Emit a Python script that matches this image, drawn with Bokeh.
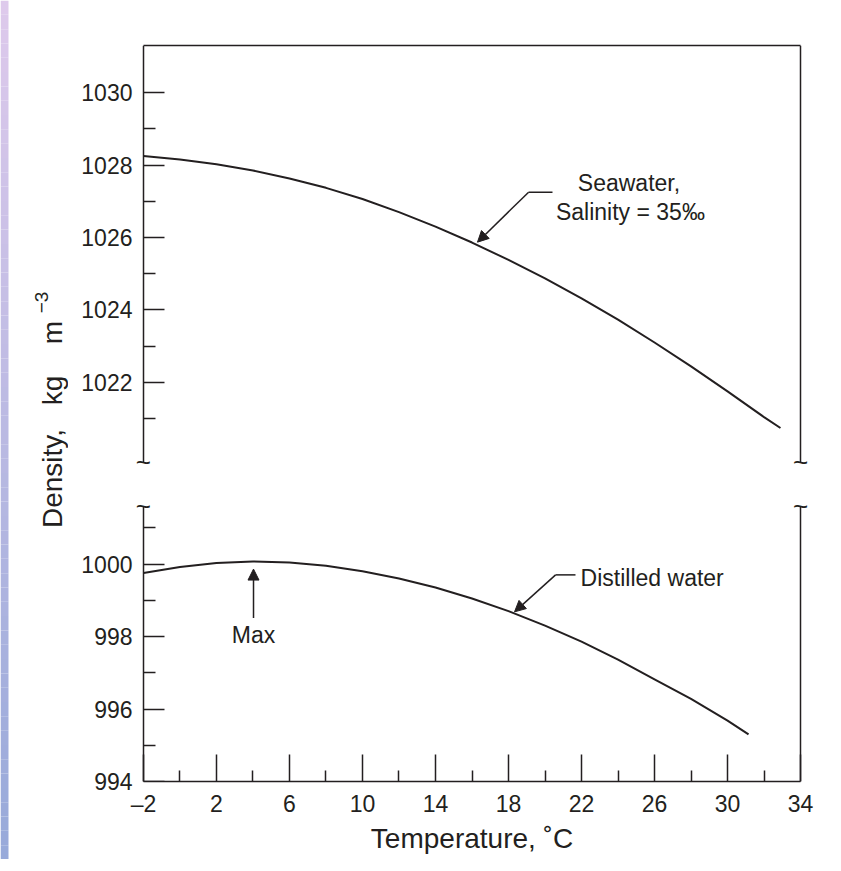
from math import pi
import numpy as np
from bokeh.plotting import figure
from bokeh.models import Range1d, LinearAxis, FixedTicker, Label, Arrow, NormalHead
from bokeh.core.properties import value
from bokeh.layouts import row, column
from bokeh.embed import file_html
from bokeh.resources import INLINE

# ---------------- data ----------------
temp_sea = [-2, 0, 2, 4, 6, 8, 10, 12, 14, 16, 18, 20, 22, 24, 26, 28, 30, 32, 32.9]
rho_sea = [1028.25, 1028.15, 1028.02, 1027.85, 1027.63, 1027.37, 1027.06, 1026.70,
           1026.30, 1025.86, 1025.38, 1024.87, 1024.32, 1023.73, 1023.10, 1022.44,
           1021.75, 1021.04, 1020.74]

temp_dist = [-2, 0, 2, 4, 6, 8, 10, 12, 14, 16, 18, 20, 22, 24, 26, 28, 30, 31.15]
rho_dist = [999.75, 999.92, 1000.03, 1000.07, 1000.04, 999.95, 999.80, 999.60,
            999.35, 999.05, 998.70, 998.30, 997.86, 997.36, 996.82, 996.28,
            995.68, 995.30]

x_major = [-2, 2, 6, 10, 14, 18, 22, 26, 30, 34]
x_minor = [0, 4, 8, 12, 16, 20, 24, 28, 32]
y_top_major = [1022, 1024, 1026, 1028, 1030]
y_top_minor = [1021, 1023, 1025, 1027, 1029]
y_bot_major = [994, 996, 998, 1000]
y_bot_minor = [995, 997, 999, 1001]

# axis extents (the broken y axis)
X_AXIS = (-2, 34)
Y_TOP = (1019.8, 1031.3)
Y_BOT = (994, 1001.6)

INK = "#231f20"
FONT = "Liberation Sans"
TICK_FS = "23px"
NOTE_FS = "23px"
PAD_X = 0.6
PAD_Y = 0.4

LEFT_W = 68
FRAME_W = 679
TOP_FRAME_H = 431
BOT_FRAME_H = 290
TOP_B, MID_T, BOT_B = 45, 15, 78


def tick_axis(positions, length, with_line, bounds):
    """axis drawn at x=-2 inside the frame: optional line + inward ticks, no labels"""
    ax = LinearAxis(ticker=FixedTicker(ticks=[], minor_ticks=positions),
                    fixed_location=X_AXIS[0], bounds=bounds)
    ax.axis_line_color = INK if with_line else None
    ax.axis_line_width = 1.5
    ax.minor_tick_line_color = INK
    ax.minor_tick_line_width = 1.5
    ax.minor_tick_in = length
    ax.minor_tick_out = 0
    ax.major_tick_in = 0
    ax.major_tick_out = 0
    ax.major_label_standoff = 0
    return ax


def labels_only(ticks):
    ax = LinearAxis(ticker=FixedTicker(ticks=ticks, minor_ticks=[]))
    ax.axis_line_color = None
    ax.major_tick_line_color = None
    ax.minor_tick_line_color = None
    ax.major_tick_in = 0
    ax.major_tick_out = 0
    ax.minor_tick_in = 0
    ax.minor_tick_out = 0
    ax.major_label_text_font = FONT
    ax.major_label_text_font_size = TICK_FS
    ax.major_label_text_color = INK
    ax.major_label_standoff = 0
    return ax


def plain_axis(**kw):
    ax = LinearAxis(ticker=FixedTicker(ticks=[], minor_ticks=[]), **kw)
    ax.axis_line_color = INK
    ax.axis_line_width = 1.5
    ax.major_tick_in = 0
    ax.major_tick_out = 0
    ax.minor_tick_in = 0
    ax.minor_tick_out = 0
    ax.major_label_standoff = 0
    return ax


def squiggles(p, y):
    p.text(x=list(X_AXIS), y=[y, y], text=["~", "~"], text_align="center",
           text_baseline="middle", text_font=value(FONT), text_font_size="26px",
           text_color=INK)


def base_fig(frame_h, y_range, top, bottom, x_axis):
    p = figure(frame_width=FRAME_W, frame_height=frame_h, output_backend="svg",
               toolbar_location=None,
               x_range=Range1d(X_AXIS[0] - PAD_X, X_AXIS[1] + PAD_X), y_range=y_range,
               x_axis_location="below" if x_axis else None, y_axis_location=None,
               min_border_left=64, min_border_right=25,
               min_border_top=top, min_border_bottom=bottom)
    p.outline_line_color = None
    p.grid.visible = False
    p.border_fill_color = "white"
    return p


def left_axes(p, major, minor, bounds):
    p.add_layout(tick_axis(major, 21, True, bounds), "left")
    p.add_layout(tick_axis(minor, 12, False, bounds), "left")
    p.add_layout(labels_only(major), "left")
    p.add_layout(plain_axis(fixed_location=X_AXIS[1], bounds=bounds), "right")


# ---------------- top panel (seawater) ----------------
pt = base_fig(TOP_FRAME_H, Range1d(Y_TOP[0] - PAD_Y, Y_TOP[1]), TOP_B, 0, False)
left_axes(pt, y_top_major, y_top_minor, Y_TOP)
pt.add_layout(plain_axis(bounds=X_AXIS), "above")

pt.line(temp_sea, rho_sea, line_color=INK, line_width=2)

pt.add_layout(Arrow(end=None, x_start=20.41, y_start=1027.25, x_end=19.10, y_end=1027.25,
                    line_color=INK, line_width=1.5))
pt.add_layout(Arrow(end=NormalHead(size=11, fill_color=INK, line_color=INK),
                    x_start=19.10, y_start=1027.25, x_end=16.30, y_end=1025.87,
                    line_color=INK, line_width=1.5))
pt.add_layout(Label(x=24.6, y=1027.49, text="Seawater,", text_align="center",
                    text_baseline="middle", text_font=FONT, text_font_size=NOTE_FS,
                    text_color=INK))
pt.add_layout(Label(x=24.68, y=1026.69, text="Salinity = 35‰", text_align="center",
                    text_baseline="middle", text_font=FONT, text_font_size=NOTE_FS,
                    text_color=INK))
squiggles(pt, Y_TOP[0])

# ---------------- bottom panel (distilled water) ----------------
pb = base_fig(BOT_FRAME_H, Range1d(Y_BOT[0], Y_BOT[1] + PAD_Y), MID_T, BOT_B, True)
left_axes(pb, y_bot_major, y_bot_minor, Y_BOT)

xa = pb.xaxis[0]
xa.ticker = FixedTicker(ticks=x_major, minor_ticks=x_minor)
xa.bounds = X_AXIS
xa.axis_line_color = INK
xa.axis_line_width = 1.5
xa.major_tick_line_color = INK
xa.major_tick_line_width = 1.5
xa.minor_tick_line_color = INK
xa.minor_tick_line_width = 1.5
xa.major_tick_in = 27
xa.major_tick_out = 0
xa.minor_tick_in = 11
xa.minor_tick_out = 0
xa.major_label_text_font = FONT
xa.major_label_text_font_size = TICK_FS
xa.major_label_text_color = INK
xa.major_label_standoff = 9
xa.major_label_overrides = {-2: "–2"}
xa.axis_label = "Temperature, ˚C"
xa.axis_label_text_font = FONT
xa.axis_label_text_font_size = "28px"
xa.axis_label_text_font_style = "normal"
xa.axis_label_text_color = INK
xa.axis_label_standoff = 3

pb.line(temp_dist, rho_dist, line_color=INK, line_width=2)

pb.add_layout(Arrow(end=None, x_start=21.67, y_start=999.70, x_end=20.58, y_end=999.70,
                    line_color=INK, line_width=1.5))
pb.add_layout(Arrow(end=NormalHead(size=11, fill_color=INK, line_color=INK),
                    x_start=20.58, y_start=999.70, x_end=18.33, y_end=998.68,
                    line_color=INK, line_width=1.5))
pb.add_layout(Label(x=21.95, y=999.61, text="Distilled water", text_align="left",
                    text_baseline="middle", text_font=FONT, text_font_size=NOTE_FS,
                    text_color=INK))
pb.add_layout(Arrow(end=NormalHead(size=11, fill_color=INK, line_color=INK),
                    x_start=4.03, y_start=998.51, x_end=4.03, y_end=999.86,
                    line_color=INK, line_width=1.5))
pb.add_layout(Label(x=4.03, y=998.04, text="Max", text_align="center",
                    text_baseline="middle", text_font=FONT, text_font_size=NOTE_FS,
                    text_color=INK))
squiggles(pb, Y_BOT[1])

# ---------------- shared y-axis title + slide edge ----------------
H = TOP_B + TOP_FRAME_H + MID_T + BOT_FRAME_H + BOT_B
pl = figure(width=LEFT_W, height=H, output_backend="svg", toolbar_location=None,
            x_range=Range1d(0, LEFT_W), y_range=Range1d(H, 0),
            x_axis_location=None, y_axis_location=None,
            min_border_left=0, min_border_right=0, min_border_top=0, min_border_bottom=0)
pl.outline_line_color = None
pl.grid.visible = False
pl.border_fill_color = "white"

n = 60
edges = np.linspace(0, H, n + 1)
t = np.linspace(0, 1, n)
top_c = np.array([222, 202, 236])
bot_c = np.array([152, 170, 218])
cols = ["#%02x%02x%02x" % tuple(int(v) for v in (top_c + (bot_c - top_c) * k)) for k in t]
pl.quad(left=0, right=8, top=edges[:-1], bottom=edges[1:], fill_color=cols,
        line_color=None)

title_parts = [("Density,", 52, 478, "28px"), ("kg", 52, 390, "28px"),
               ("m", 52, 332, "28px"), ("−3", 41, 302, "19px")]
for txt, lx, ly, fs in title_parts:
    pl.add_layout(Label(x=lx, y=ly, angle=pi / 2, text=txt, text_align="center",
                        text_baseline="middle", text_font=FONT, text_font_size=fs,
                        text_color=INK))

layout = row(pl, column(pt, pb, spacing=0), spacing=0)

with open("out.html", "w") as f:
    f.write(file_html(layout, INLINE))
